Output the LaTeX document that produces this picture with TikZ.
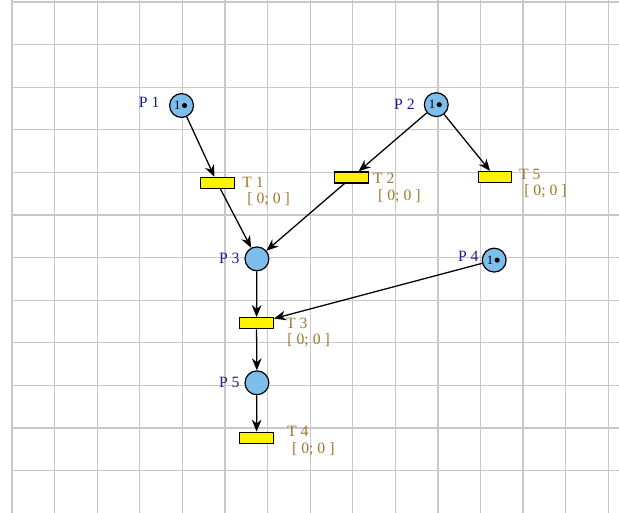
\documentclass[tikz,border=0pt]{standalone}
\usepackage{fontspec}
\setmainfont{Liberation Serif}
\usetikzlibrary{arrows.meta}
\definecolor{placeblue}{HTML}{7DBEEC}
\definecolor{namenavy}{HTML}{1C1C9C}
\definecolor{timebrown}{HTML}{9C7A2E}
\definecolor{gridgray}{HTML}{C8C8C8}
\begin{document}
\begin{tikzpicture}[x=1cm,y=1cm,
  place/.style={circle, draw, fill=placeblue, line width=0.8pt, minimum size=0.56cm, inner sep=0pt},
  trans/.style={rectangle, draw, fill=yellow, line width=0.8pt, minimum width=0.79cm, minimum height=0.26cm, inner sep=0pt},
  pname/.style={text=namenavy, font=\fontsize{10.5}{12}\selectfont, anchor=east, inner sep=0pt},
  tname/.style={text=timebrown, font=\fontsize{10.5}{12}\selectfont, anchor=west, inner sep=0pt},
  arc/.style={-{Stealth[length=8pt,width=6.5pt]}, line width=0.85pt},
  tokennum/.style={font=\fontsize{8.5}{9}\selectfont, inner sep=0pt}]
\useasboundingbox (-0.282,0.047) rectangle (14.25,-11.995);
\draw[gridgray, line width=0.9pt] (0,0.047) grid (14.25,-11.995);

\node[place] (p1) at (3.98,-2.43) {};
\node[place] (p2) at (9.96,-2.41) {};
\node[place] (p3) at (5.75,-6.03) {};
\node[place] (p4) at (11.32,-6.06) {};
\node[place] (p5) at (5.75,-8.94) {};

\node[trans] (t1) at (4.82,-4.25) {};
\node[trans] (t2) at (7.97,-4.12) {};
\node[trans] (t5) at (11.34,-4.11) {};
\node[trans] (t3) at (5.74,-7.54) {};
\node[trans] (t4) at (5.74,-10.23) {};

\node[pname] (p1name) at (3.47,-2.35) {P 1};
\node[pname] (p2name) at (9.46,-2.39) {P 2};
\node[pname] (p3name) at (5.35,-6.03) {P 3};
\node[pname] (p4name) at (10.96,-5.96) {P 4};
\node[pname] (p5name) at (5.35,-8.92) {P 5};

\node[tname] (t1name) at (5.40,-4.23) {T 1};
\node[tname] (t1time) at (5.52,-4.62) {[ 0; 0 ]};
\node[tname] (t2name) at (8.47,-4.15) {T 2};
\node[tname] (t2time) at (8.59,-4.57) {[ 0; 0 ]};
\node[tname] (t5name) at (11.90,-4.04) {T 5};
\node[tname] (t5time) at (12.02,-4.45) {[ 0; 0 ]};
\node[tname] (t3name) at (6.43,-7.54) {T 3};
\node[tname] (t3time) at (6.46,-7.93) {[ 0; 0 ]};
\node[tname] (t4name) at (6.45,-10.07) {T 4};
\node[tname] (t4time) at (6.57,-10.49) {[ 0; 0 ]};

\foreach \p in {p1,p2,p4} {
  \node[tokennum] (\p-num) at ([xshift=-0.1cm]\p.center) {1};
  \fill ([xshift=0.07cm]\p.center) circle (0.06);
}

\draw[arc] (p1) -- (t1);
\draw[arc] (t1) -- (p3);
\draw[arc] (p2) -- (t2);
\draw[arc] (p2) -- (t5);
\draw[arc] (t2) -- (p3);
\draw[arc] (p3) -- (t3);
\draw[arc] (p4) -- (t3);
\draw[arc] (t3) -- (p5);
\draw[arc] (p5) -- (t4);
\end{tikzpicture}
\end{document}
